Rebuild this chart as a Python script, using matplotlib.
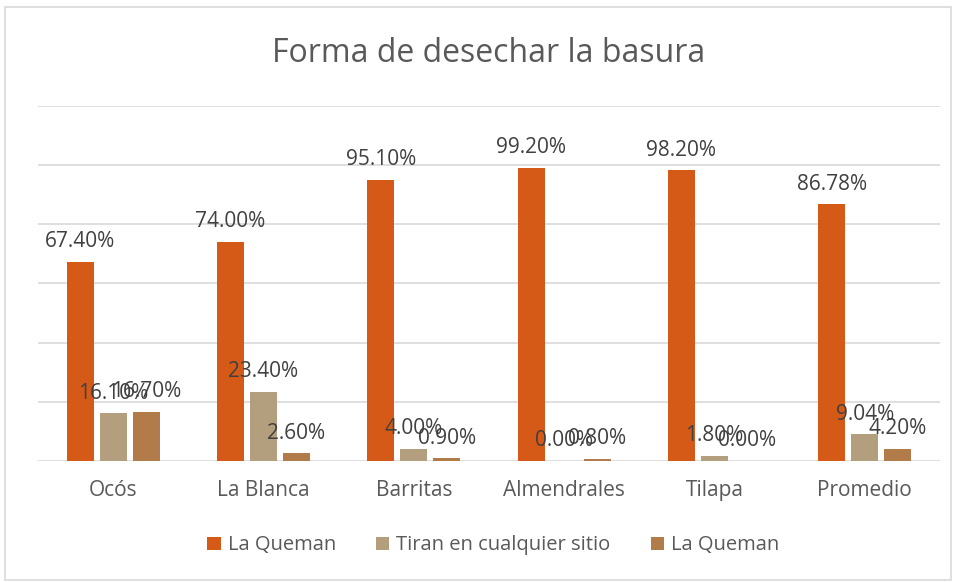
import matplotlib.pyplot as plt
import numpy as np
from matplotlib.patches import Rectangle

plt.rcParams['font.family'] = ['Open Sans', 'DejaVu Sans']

categories = ['Ocós', 'La Blanca', 'Barritas', 'Almendrales', 'Tilapa', 'Promedio']
series_names = ['La Queman', 'Tiran en cualquier sitio', 'La Queman']
queman = [67.40, 74.00, 95.10, 99.20, 98.20, 86.78]
tiran = [16.10, 23.40, 4.00, 0.00, 1.80, 9.04]
queman2 = [16.70, 2.60, 0.90, 0.80, 0.00, 4.20]
colors = ['#D55A17', '#B39E7D', '#B17C4A']

text_color = '#595959'

fig = plt.figure(figsize=(9.56, 5.82), dpi=100)
ax = fig.add_axes([0.0397, 0.2079, 0.9435, 0.61])

# light frame round the whole chart
fig.patches.append(Rectangle((0.005, 0.003), 0.99, 0.985, transform=fig.transFigure,
                             fill=False, edgecolor='#D9D9D9', linewidth=1.2))

x = np.arange(len(categories))
width = 0.18
offsets = [-0.22, 0, 0.22]

for vals, name, color, off in zip([queman, tiran, queman2], series_names, colors, offsets):
    bars = ax.bar(x + off, vals, width, color=color, label=name, zorder=3)
    for b, v in zip(bars, vals):
        ax.annotate(f'{v:.2f}%', (b.get_x() + b.get_width() / 2, v),
                    xytext=(0, 7), textcoords='offset points',
                    ha='center', va='bottom', fontsize=15, color='#404040', zorder=4)

ax.set_xlim(-0.5, len(categories) - 0.5)
ax.set_ylim(0, 120)
ax.set_yticks(np.arange(0, 121, 20))
ax.yaxis.grid(True, color='#D9D9D9', linewidth=1.2, zorder=0)
ax.tick_params(axis='y', left=False, labelleft=False)
ax.tick_params(axis='x', bottom=False, labelsize=15, labelcolor=text_color, pad=10)
ax.set_xticks(x)
ax.set_xticklabels(categories)
for s in ['top', 'right', 'left', 'bottom']:
    ax.spines[s].set_visible(False)

fig.text(0.511, 0.908, 'Forma de desechar la basura', ha='center', va='center',
         fontsize=23, color=text_color)

fig.legend(loc='center', bbox_to_anchor=(0.516, 0.063), ncol=3, frameon=False,
           fontsize=14.5, labelcolor=text_color, handlelength=0.65, handleheight=0.65,
           handletextpad=0.35, columnspacing=2.0)

fig.savefig('out.png', dpi=100)
